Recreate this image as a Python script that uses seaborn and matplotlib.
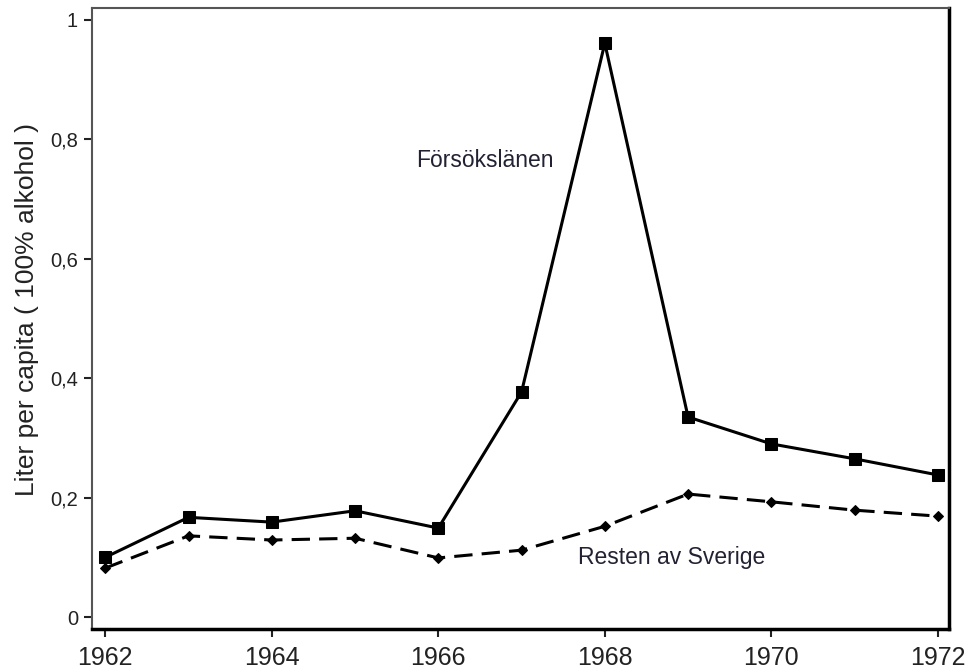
import pandas as pd
import seaborn as sns
import matplotlib.pyplot as plt
from matplotlib.ticker import FuncFormatter

years = [1962, 1963, 1964, 1965, 1966, 1967, 1968, 1969, 1970, 1971, 1972]
forsokslanen = [0.100, 0.167, 0.159, 0.178, 0.149, 0.377, 0.961, 0.335, 0.290, 0.265, 0.238]
resten = [0.082, 0.136, 0.129, 0.132, 0.099, 0.112, 0.152, 0.206, 0.193, 0.179, 0.169]
y_ticks = [0, 0.2, 0.4, 0.6, 0.8, 1.0]
x_ticks = [1962, 1964, 1966, 1968, 1970, 1972]


def comma_fmt(v, pos):
    if abs(v - round(v)) < 1e-9:
        return f'{int(round(v))}'
    return f'{v:.1f}'.replace('.', ',')


sns.set_style('ticks')
plt.rcParams['font.family'] = ['Liberation Sans', 'DejaVu Sans']

df_a = pd.DataFrame({'year': years, 'value': forsokslanen})
df_b = pd.DataFrame({'year': years, 'value': resten})

fig = plt.figure(figsize=(9.7, 6.68), dpi=100)
ax = fig.add_axes([0.0948, 0.0584, 0.8832, 0.9296])

sns.lineplot(data=df_a, x='year', y='value', ax=ax, color='black', linewidth=2.2,
             marker='s', markersize=8, markeredgecolor='black')
sns.lineplot(data=df_b, x='year', y='value', ax=ax, color='black', linewidth=2.2,
             marker='D', markersize=5, markeredgecolor='black')
ax.lines[-1].set_linestyle((0, (6, 3)))

ax.set_xlim(1961.84, 1972.13)
ax.set_ylim(-0.02, 1.02)
ax.set_xticks(x_ticks)
ax.set_yticks(y_ticks)
ax.yaxis.set_major_formatter(FuncFormatter(comma_fmt))
ax.set_xlabel('')
ax.set_ylabel('Liter per capita ( 100% alkohol )', fontsize=19, color='#222222')
ax.yaxis.set_label_coords(-0.062, 0.515)

ax.tick_params(axis='x', labelsize=18, length=6, width=1.5, colors='#222222', pad=6)
ax.tick_params(axis='y', labelsize=14.5, length=6, width=1.5, colors='#222222', pad=4)

for side in ['left', 'top']:
    ax.spines[side].set_visible(True)
    ax.spines[side].set_color('#555555')
    ax.spines[side].set_linewidth(1.5)
for side in ['right', 'bottom']:
    ax.spines[side].set_visible(True)
    ax.spines[side].set_color('black')
    ax.spines[side].set_linewidth(2.5)

ax.text(1965.73, 0.765, 'Försökslänen', fontsize=16.5, color='#222233', va='center')
ax.text(1967.68, 0.100, 'Resten av Sverige', fontsize=16.5, color='#222233', va='center')

fig.savefig('out.png', dpi=100)
